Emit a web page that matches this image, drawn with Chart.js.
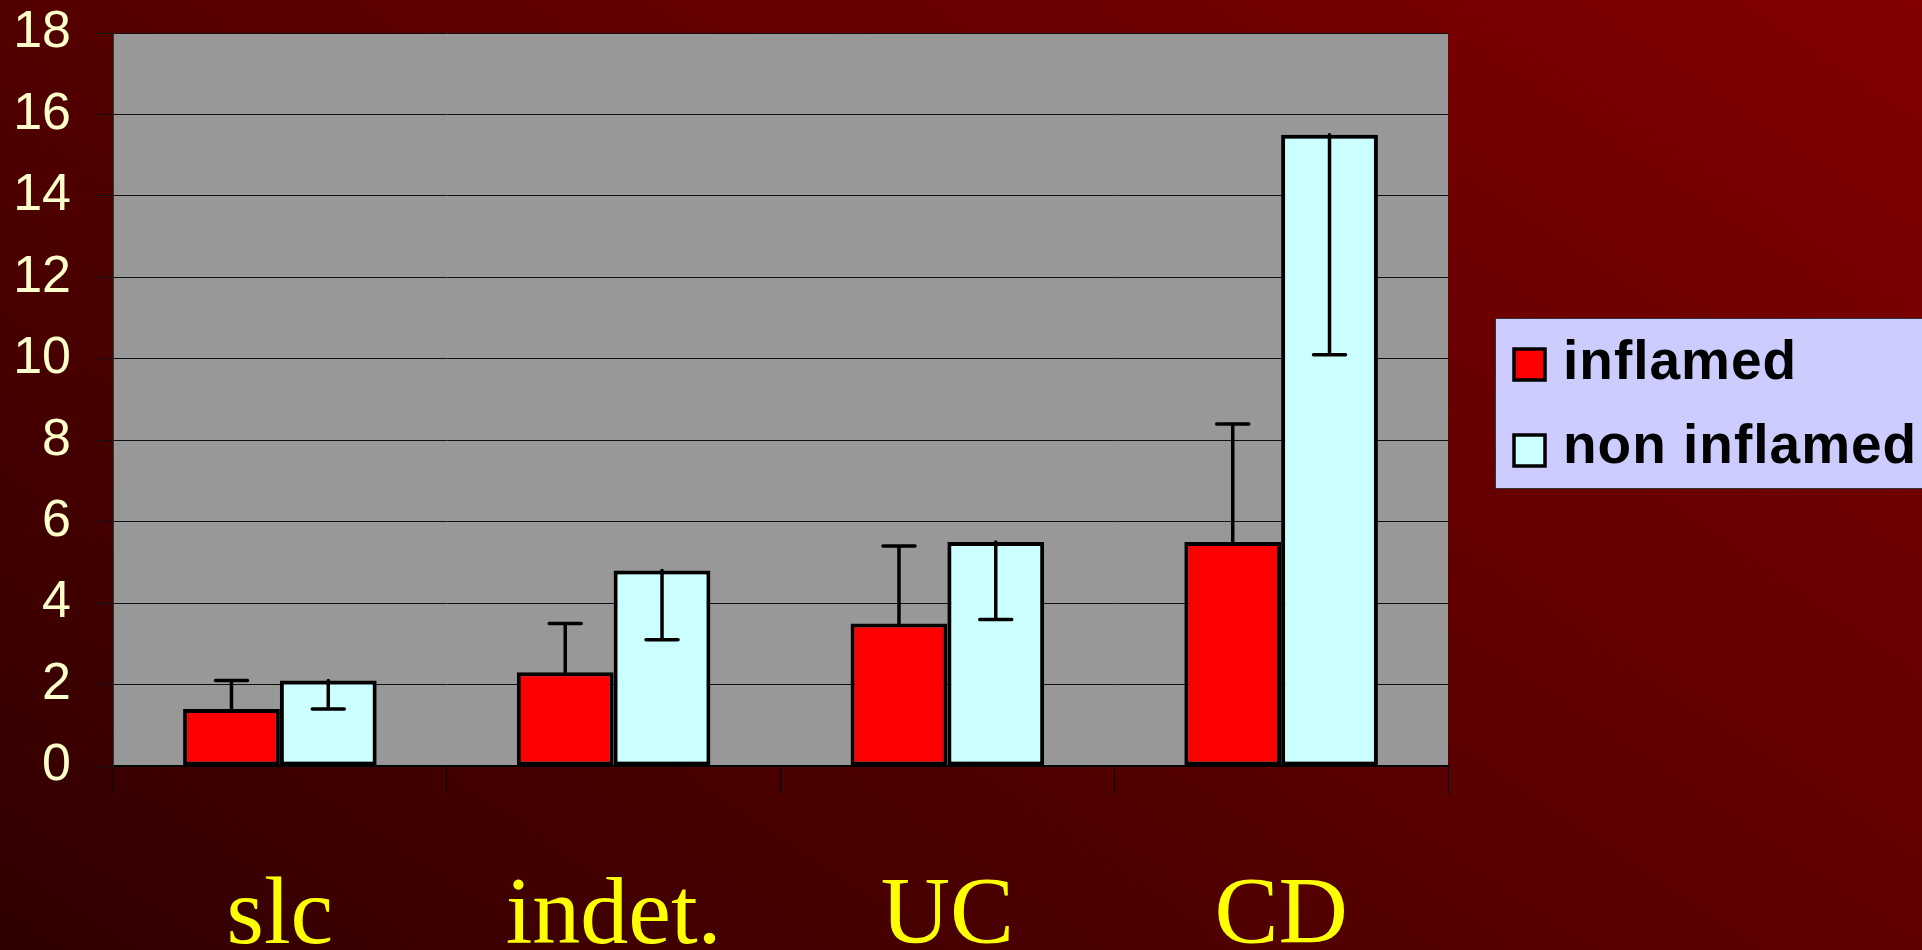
<!DOCTYPE html>
<html>
<head>
<meta charset="utf-8">
<script src="https://cdn.jsdelivr.net/npm/chart.js@4.4.0/dist/chart.umd.min.js"></script>
<style>
  html, body { margin: 0; padding: 0; overflow: hidden; }
  body {
    width: 1922px; height: 950px;
    background: linear-gradient(34deg, #300000 0%, #820000 100%);
  }
  #wrap { position: absolute; left: 0; top: 0; width: 1922px; height: 950px; }
</style>
</head>
<body>
<div id="wrap"><canvas id="myChart"></canvas></div>
<script>
// data
var categories = ["slc", "indet.", "UC", "CD"];
var inflamed = [1.4, 2.3, 3.5, 5.5];
var inflamedErr = [0.7, 1.2, 1.9, 2.9];      // drawn upwards
var nonInflamed = [2.1, 4.8, 5.5, 15.5];
var nonInflamedErr = [0.7, 1.7, 1.9, 5.4];   // drawn downwards
var yTicks = [0, 2, 4, 6, 8, 10, 12, 14, 16, 18];

var errors = [
  { sd: inflamedErr, dir: 1 },
  { sd: nonInflamedErr, dir: -1 }
];

// grey plot area, like the excel chart
var plotBg = {
  id: 'plotBg',
  beforeDraw: function(chart) {
    var a = chart.chartArea, ctx = chart.ctx;
    ctx.save();
    ctx.fillStyle = '#989898';
    ctx.fillRect(a.left, a.top, a.right - a.left, a.bottom - a.top);
    ctx.restore();
  }
};

var errorBars = {
  id: 'errorBars',
  afterDatasetsDraw: function(chart) {
    var ctx = chart.ctx, y = chart.scales.y;
    ctx.save();
    ctx.strokeStyle = '#000';
    ctx.lineWidth = 3.5;
    ctx.lineCap = 'round';
    chart.data.datasets.forEach(function(ds, i) {
      var meta = chart.getDatasetMeta(i);
      meta.data.forEach(function(bar, j) {
        var v = ds.data[j];
        var end = v + errors[i].dir * errors[i].sd[j];
        var y0 = y.getPixelForValue(v), y1 = y.getPixelForValue(end);
        ctx.beginPath();
        ctx.moveTo(bar.x, y0);
        ctx.lineTo(bar.x, y1);
        ctx.moveTo(bar.x - 16, y1);
        ctx.lineTo(bar.x + 16, y1);
        ctx.stroke();
      });
    });
    ctx.restore();
  }
};

var boxLegend = {
  id: 'boxLegend',
  afterDraw: function(chart) {
    var ctx = chart.ctx;
    ctx.save();
    ctx.fillStyle = '#CCCCFF';
    ctx.fillRect(1495, 318, 440, 170);
    ctx.strokeStyle = '#333';
    ctx.lineWidth = 1;
    ctx.strokeRect(1495.5, 318.5, 440, 170);
    var rows = [{ box: 349, base: 379 }, { box: 435, base: 463 }];
    ctx.font = 'bold 55px "Liberation Sans", Arial, sans-serif';
    ctx.letterSpacing = '1px';
    ctx.textBaseline = 'alphabetic';
    chart.data.datasets.forEach(function(ds, i) {
      ctx.fillStyle = ds.backgroundColor;
      ctx.fillRect(1514, rows[i].box, 31, 31);
      ctx.strokeStyle = '#000';
      ctx.lineWidth = 3.5;
      ctx.strokeRect(1514, rows[i].box, 31, 31);
      ctx.fillStyle = '#000';
      ctx.fillText(ds.label, 1563, rows[i].base);
    });
    ctx.restore();
  }
};

var ctx = document.getElementById('myChart').getContext('2d');
var chart = new Chart(ctx, {
  type: 'bar',
  data: {
    labels: categories,
    datasets: [
      { label: 'inflamed', data: inflamed, backgroundColor: '#FF0000',
        borderColor: '#000', borderWidth: 4, borderSkipped: false },
      { label: 'non inflamed', data: nonInflamed, backgroundColor: '#CCFFFF',
        borderColor: '#000', borderWidth: 4, borderSkipped: false }
    ]
  },
  options: {
    responsive: true,
    maintainAspectRatio: false,
    animation: false,
    layout: { padding: { top: 33, right: 474, left: 0, bottom: 0 } },
    datasets: { bar: { categoryPercentage: 0.58, barPercentage: 1.0 } },
    plugins: { legend: { display: false }, tooltip: { enabled: false } },
    scales: {
      x: {
        grid: { offset: true, drawOnChartArea: false, color: '#000', tickLength: 28, lineWidth: 1 },
        border: { color: '#000', width: 2 },
        ticks: {
          color: '#FFFF00', padding: 66,
          font: { family: '"Liberation Serif", "Times New Roman", serif', size: 96 }
        },
        afterFit: function(s) { s.height = 184; s.paddingLeft = 0; s.paddingRight = 0; }
      },
      y: {
        min: 0, max: 18,
        afterBuildTicks: function(s) { s.ticks = yTicks.map(function(v) { return { value: v }; }); },
        grid: { color: '#111', tickLength: 16, lineWidth: 1 },
        border: { color: '#333', width: 1 },
        ticks: {
          color: '#FFFFCC', padding: 26,
          font: { family: '"Liberation Sans", Arial, sans-serif', size: 52 }
        },
        afterFit: function(s) { s.width = 113; s.paddingTop = 0; s.paddingBottom = 0; }
      }
    }
  },
  plugins: [plotBg, errorBars, boxLegend]
});
</script>
</body>
</html>
